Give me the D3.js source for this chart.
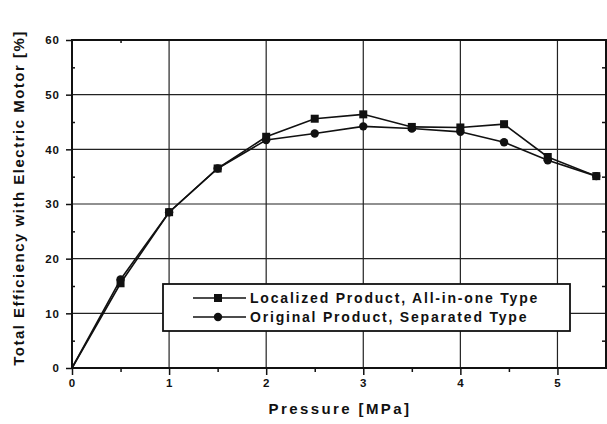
<!DOCTYPE html>
<html lang="en">
<head>
    <meta charset="UTF-8">
    <title>efficiency vs pressure</title>
    <script src="https://d3js.org/d3.v7.min.js"></script>
    <style>
        body { margin: 0; background: #fff; }
        text { font-family: "Liberation Sans", Arial, sans-serif; font-weight: bold; fill: #111; }
    </style>
</head>
<body>
    <script>
        // pressure [MPa]
        let pressure = [0, 0.5, 1, 1.5, 2, 2.5, 3, 3.5, 4, 4.45, 4.9, 5.4];
        // Localized Product, All-in-one Type (squares)
        let localized = [0, 15.5, 28.5, 36.5, 42.3, 45.6, 46.4, 44.1, 44.0, 44.6, 38.6, 35.1];
        // Original Product, Separated Type (circles)
        let original = [0, 16.2, 28.5, 36.5, 41.7, 42.9, 44.2, 43.8, 43.2, 41.3, 38.0, 35.1];

        let xTicks = [0, 1, 2, 3, 4, 5];
        let yTicks = [0, 10, 20, 30, 40, 50, 60];
        let seriesNames = ['Localized Product, All-in-one Type', 'Original Product, Separated Type'];

        let width = 607;
        let height = 424;
        let mLeft = 72, mRight = 606, mTop = 40, mBottom = 368;

        let x = d3.scaleLinear().domain([0, 5.5]).range([mLeft, mRight]);
        let y = d3.scaleLinear().domain([0, 60]).range([mBottom, mTop]);

        let svg = d3.select('body').append('svg')
            .attr('width', width)
            .attr('height', height);

        // grid
        svg.append('g').selectAll('line').data(xTicks.slice(1))
            .join('line')
            .attr('x1', d => x(d)).attr('x2', d => x(d))
            .attr('y1', mTop).attr('y2', mBottom)
            .attr('stroke', '#222').attr('stroke-width', 1.2);
        svg.append('g').selectAll('line').data(yTicks.slice(1, -1))
            .join('line')
            .attr('x1', mLeft).attr('x2', mRight)
            .attr('y1', d => y(d)).attr('y2', d => y(d))
            .attr('stroke', '#222').attr('stroke-width', 1.2);

        // axes
        let xAxis = d3.axisBottom(x).tickValues(xTicks).tickSize(7).tickPadding(4).tickFormat(d3.format('d'));
        svg.append('g').attr('transform', `translate(0,${mBottom})`).call(xAxis);
        let xMinor = d3.axisBottom(x).tickValues([0.5, 1.5, 2.5, 3.5, 4.5]).tickSize(4).tickFormat('');
        svg.append('g').attr('transform', `translate(0,${mBottom})`).call(xMinor);

        let yAxis = d3.axisLeft(y).tickValues(yTicks).tickSize(6).tickPadding(6);
        svg.append('g').attr('transform', `translate(${mLeft},0)`).call(yAxis);
        let yMinor = d3.axisRight(y).tickValues([5, 15, 25, 35, 45, 55]).tickSize(3).tickFormat('');
        svg.append('g').attr('transform', `translate(${mLeft},0)`).call(yMinor);
        let yRight = d3.axisLeft(y).tickValues([5, 15, 25, 35, 45, 55]).tickSize(3).tickFormat('');
        svg.append('g').attr('transform', `translate(${mRight - 1},0)`).call(yRight);
        let xTop = d3.axisBottom(x).tickValues([0.5]).tickSize(3).tickFormat('');
        svg.append('g').attr('transform', `translate(0,${mTop})`).call(xTop);

        svg.selectAll('.domain').remove();
        svg.selectAll('.tick line').attr('stroke', '#111').attr('stroke-width', 1.5);
        svg.selectAll('.tick text').attr('font-size', 11.5).attr('font-weight', 'bold')
            .attr('letter-spacing', 1)
            .attr('font-family', '"Liberation Sans", Arial, sans-serif').attr('fill', '#111');

        // frame
        svg.append('rect')
            .attr('x', mLeft).attr('y', mTop)
            .attr('width', mRight - mLeft).attr('height', mBottom - mTop)
            .attr('fill', 'none').attr('stroke', '#111').attr('stroke-width', 2);

        // series
        let line = d3.line().x(d => x(d[0])).y(d => y(d[1]));
        let sqData = pressure.map((p, i) => [p, localized[i]]);
        let ciData = pressure.map((p, i) => [p, original[i]]);

        svg.append('path').datum(sqData).attr('d', line)
            .attr('fill', 'none').attr('stroke', '#111').attr('stroke-width', 1.6);
        svg.append('path').datum(ciData).attr('d', line)
            .attr('fill', 'none').attr('stroke', '#111').attr('stroke-width', 1.6);

        svg.append('g').selectAll('circle').data(ciData.slice(1))
            .join('circle')
            .attr('cx', d => x(d[0])).attr('cy', d => y(d[1]))
            .attr('r', 4.2).attr('fill', '#111');
        svg.append('g').selectAll('rect').data(sqData.slice(1))
            .join('rect')
            .attr('x', d => x(d[0]) - 4).attr('y', d => y(d[1]) - 4)
            .attr('width', 8).attr('height', 8).attr('fill', '#111');

        // legend
        let lg = svg.append('g');
        lg.append('rect')
            .attr('x', 163).attr('y', 284).attr('width', 407).attr('height', 47)
            .attr('fill', '#fff').attr('stroke', '#111').attr('stroke-width', 1.8);
        seriesNames.forEach((name, i) => {
            let ly = 298 + i * 19;
            lg.append('line').attr('x1', 193).attr('x2', 246).attr('y1', ly).attr('y2', ly)
                .attr('stroke', '#111').attr('stroke-width', 1.5);
            if (i === 0) {
                lg.append('rect').attr('x', 214).attr('y', ly - 4).attr('width', 8).attr('height', 8).attr('fill', '#111');
            } else {
                lg.append('circle').attr('cx', 218).attr('cy', ly).attr('r', 4.2).attr('fill', '#111');
            }
            lg.append('text').attr('x', 250).attr('y', ly + 5)
                .attr('font-size', 14).attr('letter-spacing', 1.8)
                .text(name);
        });

        // axis titles
        svg.append('text')
            .attr('x', 340).attr('y', 414)
            .attr('text-anchor', 'middle')
            .attr('font-size', 15).attr('letter-spacing', 2.4)
            .text('Pressure [MPa]');
        svg.append('text')
            .attr('transform', `translate(24,${(mTop + mBottom) / 2 - 6}) rotate(-90)`)
            .attr('text-anchor', 'middle')
            .attr('font-size', 15).attr('letter-spacing', 1.5)
            .text('Total Efficiency with Electric Motor [%]');
    </script>
</body>
</html>
